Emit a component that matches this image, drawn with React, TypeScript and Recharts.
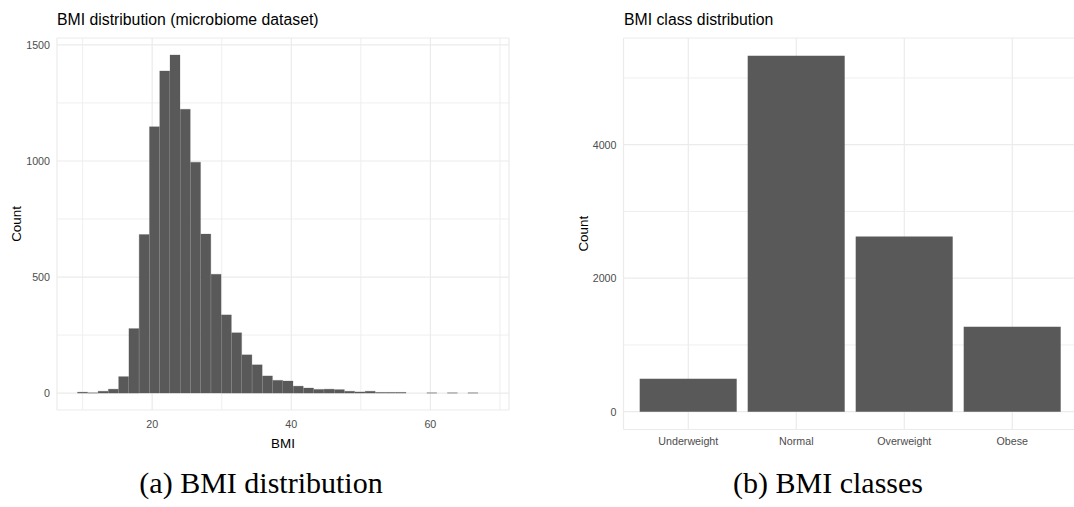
import React from 'react';
import { BarChart, Bar, XAxis, YAxis, CartesianGrid, Label } from 'recharts';

// BMI histogram (40 bins)
const bmiBinStart = 9.27;
const bmiBinWidth = 1.477;
const bmiCounts = [
  4, 1, 8, 17, 71, 278, 683, 1148, 1388, 1457, 1223, 995, 685, 512, 337, 260, 165, 122, 74, 55,
  52, 30, 22, 16, 17, 15, 8, 5, 8, 3, 3, 3, 0, 0, 1, 0, 1, 0, 1, 0,
];
const bmiTicks = [20, 40, 60];
const bmiMinorTicks = [10, 30, 50, 70];
const histTicks = [0, 500, 1000, 1500];
const histMinorTicks = [250, 750, 1250];

// BMI classes
const classNames = ['Underweight', 'Normal', 'Overweight', 'Obese'];
const classCounts = [494, 5332, 2623, 1272];
const classTicks = [0, 2000, 4000];
const classMinorTicks = [1000, 3000, 5000];

const SANS = '"Liberation Sans", Arial, Helvetica, sans-serif';
const SERIF = '"Liberation Serif", "Times New Roman", serif';
const GRID = '#EBEBEB';
const BAR = '#595959';
const tickStyle = { fontSize: 10.7, fill: '#4D4D4D', fontFamily: SANS };
const axisTitleStyle = { fontSize: 13.4, fill: '#000', fontFamily: SANS };

// ggplot-like 5% expansion
const expand = (lo: number, hi: number): [number, number] => {
  const pad = (hi - lo) * 0.05;
  return [lo - pad, hi + pad];
};

const histData = bmiCounts.map((count, i) => ({
  bmi: bmiBinStart + (i + 0.5) * bmiBinWidth,
  count,
}));
const classData = classNames.map((name, i) => ({ name, count: classCounts[i] }));

const histX = expand(bmiBinStart, bmiBinStart + bmiCounts.length * bmiBinWidth);
const histY = expand(0, Math.max(...bmiCounts));
const classY = expand(0, Math.max(...classCounts));

// left panel geometry
const L_W = 540;
const L_H = 460;
const L_PLOT_LEFT = 57;
const L_PLOT_RIGHT = 509;

function BmiHistogram() {
  return (
    <BarChart
      width={L_W}
      height={L_H}
      data={histData}
      margin={{ top: 38, right: L_W - L_PLOT_RIGHT, bottom: 0, left: 0 }}
      barCategoryGap={0}
      barGap={0}
    >
      <CartesianGrid stroke={GRID} strokeWidth={0.8} horizontalValues={histMinorTicks} verticalValues={bmiMinorTicks} />
      <CartesianGrid stroke={GRID} strokeWidth={1.2} />
      <XAxis
        dataKey="bmi"
        type="number"
        domain={histX}
        allowDataOverflow
        ticks={bmiTicks}
        tick={tickStyle}
        tickLine={false}
        axisLine={false}
        tickSize={8}
        tickMargin={2}
        height={L_H - 410}
      >
        <Label value="BMI" position="insideBottom" offset={12} style={axisTitleStyle} />
      </XAxis>
      <YAxis
        type="number"
        domain={histY}
        allowDataOverflow
        ticks={histTicks}
        tick={tickStyle}
        tickLine={false}
        axisLine={false}
        tickSize={5}
        tickMargin={2}
        width={L_PLOT_LEFT}
        label={{
          value: 'Count',
          angle: -90,
          position: 'insideLeft',
          offset: 16.5,
          style: { ...axisTitleStyle, textAnchor: 'middle' },
        }}
      />
      {/* thin same-colour stroke closes the sub-pixel seams between bins */}
      <Bar dataKey="count" fill={BAR} stroke={BAR} strokeWidth={0.25} isAnimationActive={false} />
    </BarChart>
  );
}

// right panel geometry
const R_W = 540;
const R_H = 460;
const R_PLOT_LEFT = 83.5;
const R_PLOT_RIGHT = 537.1;

function BmiClasses() {
  return (
    <BarChart
      width={R_W}
      height={R_H}
      data={classData}
      margin={{ top: 38, right: R_W - R_PLOT_RIGHT, bottom: 0, left: 0 }}
      barCategoryGap="5%"
    >
      <CartesianGrid stroke={GRID} strokeWidth={0.8} horizontalValues={classMinorTicks} vertical={false} />
      <CartesianGrid stroke={GRID} strokeWidth={1.2} />
      <XAxis
        dataKey="name"
        type="category"
        padding={{ left: 10.8, right: 10.8 }}
        tick={tickStyle}
        tickLine={false}
        axisLine={false}
        tickSize={6}
        tickMargin={2}
        height={R_H - 429.5}
        interval={0}
      />
      <YAxis
        type="number"
        domain={classY}
        allowDataOverflow
        ticks={classTicks}
        tick={tickStyle}
        tickLine={false}
        axisLine={false}
        tickSize={5}
        tickMargin={2}
        width={R_PLOT_LEFT}
        label={{
          value: 'Count',
          angle: -90,
          position: 'insideLeft',
          offset: 43.4,
          style: { ...axisTitleStyle, textAnchor: 'middle' },
        }}
      />
      <Bar dataKey="count" fill={BAR} isAnimationActive={false} />
    </BarChart>
  );
}

export default function App() {
  return (
    <div
      style={{
        position: 'absolute',
        left: 0,
        top: 0,
        width: 1074,
        height: 507,
        background: '#fff',
        overflow: 'hidden',
        fontFamily: SANS,
      }}
    >
      <div style={{ position: 'absolute', left: 0, top: 0 }}>
        <BmiHistogram />
      </div>
      <div style={{ position: 'absolute', left: 540, top: 0 }}>
        <BmiClasses />
      </div>
      {/* titles and sub-figure captions */}
      <svg
        width={1074}
        height={507}
        style={{ position: 'absolute', left: 0, top: 0, pointerEvents: 'none' }}
      >
        <text x={57} y={25} fontSize={15.8} fontFamily={SANS} fill="#000">
          BMI distribution (microbiome dataset)
        </text>
        <text x={624} y={25} fontSize={15.8} fontFamily={SANS} fill="#000">
          BMI class distribution
        </text>
        <text x={261} y={493} fontSize={30} fontFamily={SERIF} textAnchor="middle" fill="#000">
          (a) BMI distribution
        </text>
        <text x={828} y={493} fontSize={30} fontFamily={SERIF} textAnchor="middle" fill="#000">
          (b) BMI classes
        </text>
      </svg>
    </div>
  );
}
